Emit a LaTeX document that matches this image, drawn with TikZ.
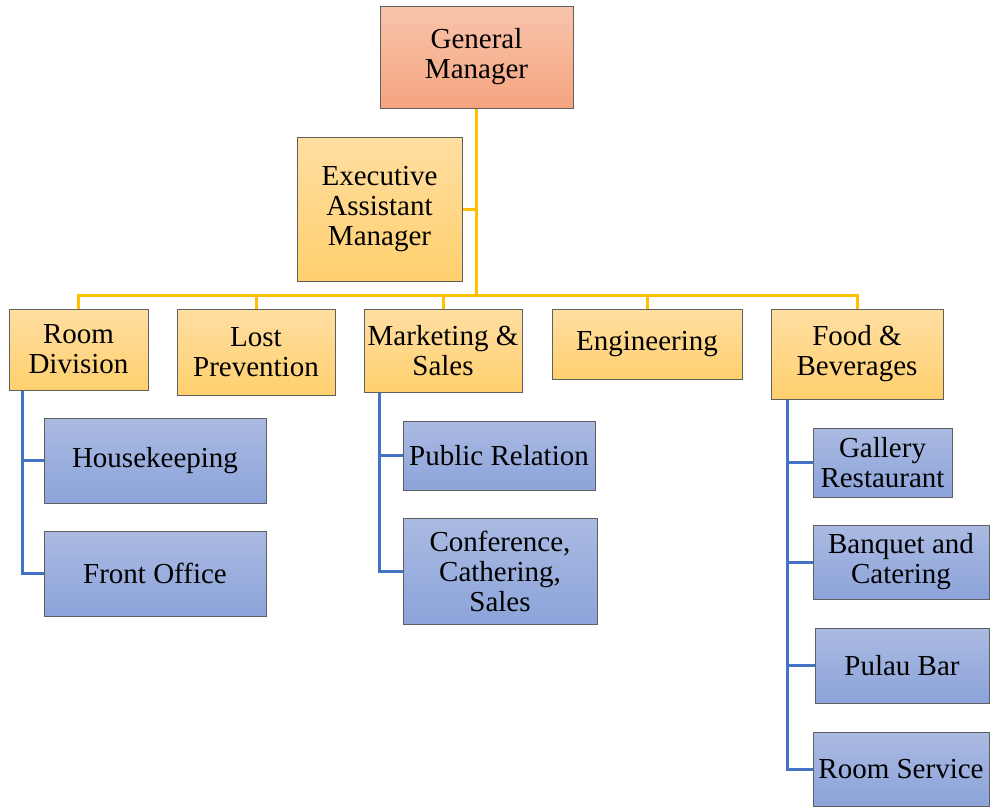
\documentclass[tikz,border=0pt]{standalone}
\usepackage{fontspec}
\setmainfont{Liberation Serif}

\definecolor{gmtop}{HTML}{F8C4AC}
\definecolor{gmbot}{HTML}{F5A47F}
\definecolor{deptop}{HTML}{FFDEA2}
\definecolor{depbot}{HTML}{FFD06E}
\definecolor{subtop}{HTML}{AABAE2}
\definecolor{subbot}{HTML}{8CA4DA}
\definecolor{boxline}{HTML}{5F5F5F}
\definecolor{goldline}{HTML}{FFC000}
\definecolor{blueline}{HTML}{4472C4}

\tikzset{every picture/.style={line width=1pt}}
\tikzset{
  orgbox/.style={draw=boxline, line width=1pt, inner sep=0pt, align=center,
    font=\fontsize{29}{30}\selectfont},
  gmbox/.style={orgbox, top color=gmtop, bottom color=gmbot},
  deptbox/.style={orgbox, top color=deptop, bottom color=depbot},
  subbox/.style={orgbox, top color=subtop, bottom color=subbot},
  goldlink/.style={draw=goldline, line width=3pt},
  bluelink/.style={draw=blueline, line width=3pt}
}

\begin{document}
\begin{tikzpicture}[x=1pt,y=1pt,yscale=-1]
%set diagram area: 990 x 807
\useasboundingbox (0,0) rectangle (990,807);

% Top level
\node[gmbox, minimum width=193, minimum height=102] (GM) at (476.5,57) {General\\Manager};
\node[deptbox, minimum width=165, minimum height=144] (EAM) at (379.5,209) {Executive\\Assistant\\Manager};

% Departments
\node[deptbox, minimum width=139, minimum height=81] (RD) at (78.5,349.5) {Room\\Division};
\node[deptbox, minimum width=158, minimum height=86] (LP) at (256,352) {Lost\\Prevention};
\node[deptbox, minimum width=158, minimum height=83] (MS) at (443,350.5) {Marketing \&\\Sales};
\node[deptbox, minimum width=190, minimum height=70] (EN) at (647,344) {Engineering};
\node[deptbox, minimum width=172, minimum height=90] (FB) at (857,354) {Food \&\\Beverages};

% Room Division units
\node[subbox, minimum width=222, minimum height=85] (HK) at (155,460.5) {Housekeeping};
\node[subbox, minimum width=222, minimum height=85] (FO) at (155,573.5) {Front Office};

% Marketing units
\node[subbox, minimum width=192, minimum height=69] (PR) at (499,455.5) {Public Relation};
\node[subbox, minimum width=194, minimum height=106] (CC) at (500,571) {Conference,\\Cathering,\\Sales};

% Food & Beverages units
\node[subbox, minimum width=139, minimum height=69] (GR) at (882.5,462.5) {Gallery\\Restaurant};
\node[subbox, minimum width=176, minimum height=74] (BC) at (901,562) {Banquet and\\Catering};
\node[subbox, minimum width=174, minimum height=75] (PB) at (902,665.5) {Pulau Bar};
\node[subbox, minimum width=176, minimum height=74] (RS) at (901,769) {Room Service};

% Gold connectors
\coordinate (hub) at (GM.south |- 0,295);
\draw[goldlink] (GM.south) -- (hub);
\draw[goldlink] (EAM.east) -- (EAM.east -| hub);
\draw[goldlink] (RD.north) -- (RD.north |- hub) -| (FB.north);
\draw[goldlink] (LP.north) -- (LP.north |- hub);
\draw[goldlink] (MS.north) -- (MS.north |- hub);
\draw[goldlink] (EN.north) -- (EN.north |- hub);

% Blue connectors
\coordinate (rdtrunk) at ([xshift=14pt]RD.south west);
\draw[bluelink] (rdtrunk) |- (HK.west);
\draw[bluelink] (rdtrunk) |- (FO.west);

\coordinate (mstrunk) at ([xshift=16pt]MS.south west);
\draw[bluelink] (mstrunk) |- (PR.west);
\draw[bluelink] (mstrunk) |- (CC.west);

\coordinate (fbtrunk) at ([xshift=17pt]FB.south west);
\draw[bluelink] (fbtrunk) |- (GR.west);
\draw[bluelink] (fbtrunk) |- (BC.west);
\draw[bluelink] (fbtrunk) |- (PB.west);
\draw[bluelink] (fbtrunk) |- (RS.west);

\end{tikzpicture}
\end{document}
